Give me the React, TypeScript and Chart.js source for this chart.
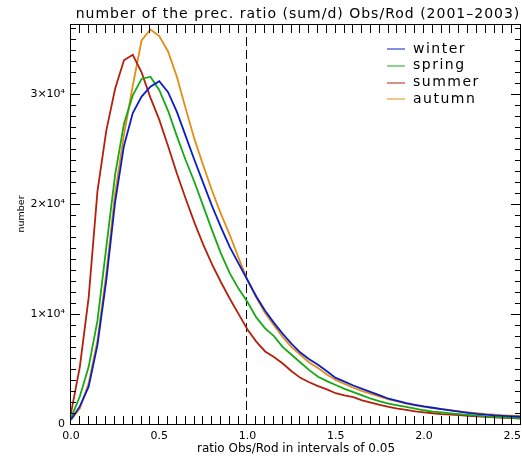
import React, { useEffect, useRef } from "react";
import { Chart, registerables } from "chart.js";

Chart.register(...registerables);

// ---- data ----
const ratioBins = [
  0.0, 0.05, 0.1, 0.15, 0.2, 0.25, 0.3, 0.35, 0.4, 0.45,
  0.5, 0.55, 0.6, 0.65, 0.7, 0.75, 0.8, 0.85, 0.9, 0.95,
  1.0, 1.05, 1.1, 1.15, 1.2, 1.25, 1.3, 1.35, 1.4, 1.45,
  1.5, 1.55, 1.6, 1.65, 1.7, 1.75, 1.8, 1.85, 1.9, 1.95,
  2.0, 2.05, 2.1, 2.15, 2.2, 2.25, 2.3, 2.35, 2.4, 2.45,
  2.5, 2.55,
];

const winterCounts = [
  400, 1600, 3400, 7200, 13100, 20200, 25300, 28300, 29800, 30700,
  31200, 30200, 28400, 26200, 24000, 21900, 19800, 17900, 16100, 14600,
  13100, 11600, 10300, 9200, 8200, 7300, 6500, 5900, 5400, 4800,
  4200, 3850, 3500, 3200, 2900, 2600, 2300, 2100, 1900, 1750,
  1600, 1480, 1350, 1230, 1120, 1020, 930, 860, 790, 740,
  700, 660,
];

const springCounts = [
  550, 2500, 5200, 9400, 16100, 22700, 27300, 29900, 31400, 31600,
  30400, 28500, 26200, 24000, 22000, 19800, 17600, 15500, 13700, 12300,
  11100, 9700, 8700, 8000, 7000, 6300, 5600, 4900, 4300, 3900,
  3550, 3200, 2900, 2600, 2300, 2050, 1850, 1700, 1550, 1400,
  1250, 1130, 1050, 970, 900, 830, 770, 700, 650, 600,
  560, 520,
];

const summerCounts = [
  1000, 5200, 11500, 21200, 26700, 30500, 33100, 33600, 32000, 29700,
  27700, 25300, 22800, 20500, 18300, 16300, 14500, 12900, 11400, 10000,
  8600, 7500, 6600, 6100, 5500, 4800, 4200, 3800, 3450, 3150,
  2800, 2600, 2450, 2150, 1950, 1750, 1550, 1400, 1280, 1150,
  1050, 980, 900, 860, 800, 750, 700, 650, 600, 560,
  530, 500,
];

const autumnCounts = [
  360, 1400, 3700, 7600, 13700, 21000, 26300, 30800, 34900, 35900,
  35300, 33900, 31600, 28700, 25900, 23500, 21200, 19100, 17200, 15100,
  13100, 11500, 10100, 9000, 7900, 7000, 6300, 5600, 5100, 4500,
  4000, 3650, 3300, 3000, 2750, 2500, 2250, 2050, 1850, 1700,
  1550, 1450, 1350, 1250, 1150, 1060, 980, 900, 840, 790,
  750, 720,
];

const seasonNames = ["winter", "spring", "summer", "autumn"];
const seasonColors = ["#0a1ec8", "#14aa14", "#b4200c", "#e68c14"];
const seasonSeries = [winterCounts, springCounts, summerCounts, autumnCounts];

const xTickValues = [0, 0.5, 1.0, 1.5, 2.0, 2.5];
const xTickLabels = ["0.0", "0.5", "1.0", "1.5", "2.0", "2.5"];
const yTickValues = [0, 10000, 20000, 30000];
const yTickLabels = ["0", "1×10⁴", "2×10⁴", "3×10⁴"];

const xMin = 0;
const xMax = 2.55;
const yMin = 0;
const yMax = 36400;
const xMinorStep = 0.05;
const yMinorStep = 1000;
const referenceRatio = 1.0;

const chartTitle = "number of the prec. ratio (sum/d) Obs/Rod (2001–2003)";
const xAxisTitle = "ratio Obs/Rod in intervals of 0.05";
const yAxisTitle = "number";

const FONT = "'DejaVu Sans', 'Liberation Sans', sans-serif";

const idlFramePlugin = {
  id: "idlFrame",
  beforeDatasetsDraw(chart: any) {
    const { ctx, chartArea, scales } = chart;
    const px = Math.round(scales.x.getPixelForValue(referenceRatio));
    ctx.save();
    ctx.fillStyle = "#000";
    // dashed reference line (9 on, 4 off)
    for (let y = chartArea.top; y < chartArea.bottom; y += 13) {
      const h = Math.min(9, chartArea.bottom - y);
      ctx.fillRect(px - 1, y, 1, h);
    }
    ctx.restore();
  },
  afterDraw(chart: any) {
    const { ctx, chartArea, scales } = chart;
    const { left, right, top, bottom } = chartArea;
    const xs = scales.x;
    const ys = scales.y;
    ctx.save();
    ctx.fillStyle = "#000";
    const L = Math.round(left) - 1;
    const R = Math.round(right) - 1;
    const T = Math.round(top);
    const B = Math.round(bottom);
    // frame
    ctx.fillRect(L, T, R - L + 1, 1);
    ctx.fillRect(L, B, R - L + 1, 1);
    ctx.fillRect(L, T, 1, B - T + 1);
    ctx.fillRect(R, T, 1, B - T + 1);
    // x ticks (inward, top and bottom)
    const nx = Math.round((xMax - xMin) / xMinorStep);
    for (let i = 0; i <= nx; i++) {
      const v = xMin + i * xMinorStep;
      if (v > xMax + 1e-9) break;
      const p = Math.round(xs.getPixelForValue(v)) - 1;
      ctx.fillRect(p, B - 8, 1, 8);
      ctx.fillRect(p, T + 1, 1, 8);
    }
    // y ticks (inward, left and right)
    const ny = Math.floor((yMax - yMin) / yMinorStep);
    for (let i = 0; i <= ny; i++) {
      const v = yMin + i * yMinorStep;
      const major = yTickValues.indexOf(v) >= 0;
      const len = major ? 9 : 5;
      const p = Math.round(ys.getPixelForValue(v));
      ctx.fillRect(L + 1, p, len, 1);
      ctx.fillRect(R - len, p, len, 1);
    }

    // title
    ctx.textAlign = "center";
    ctx.textBaseline = "middle";
    (ctx as any).letterSpacing = "1px";
    ctx.font = `14px ${FONT}`;
    ctx.fillText(chartTitle, 298, 14);

    // x axis title
    (ctx as any).letterSpacing = "0px";
    ctx.font = `12px ${FONT}`;
    ctx.fillText(xAxisTitle, (left + right) / 2, 449);

    // y axis title
    ctx.save();
    ctx.translate(21.5, 214);
    ctx.rotate(-Math.PI / 2);
    ctx.font = `9.5px ${FONT}`;
    ctx.fillText(yAxisTitle, 0, 0);
    ctx.restore();

    // legend
    const rows = [49, 65.8, 82.6, 99.4];
    ctx.font = `14px ${FONT}`;
    (ctx as any).letterSpacing = "1.5px";
    ctx.textAlign = "left";
    chart.data.datasets.forEach((ds: any, i: number) => {
      const y = rows[i];
      ctx.strokeStyle = ds.borderColor;
      ctx.lineWidth = 1;
      ctx.beginPath();
      ctx.moveTo(387, Math.round(y));
      ctx.lineTo(405, Math.round(y));
      ctx.stroke();
      ctx.fillStyle = "#000";
      ctx.fillText(ds.label, 413, y);
    });
    (ctx as any).letterSpacing = "0px";
    ctx.restore();
  },
};

export default function App() {
  const canvasRef = useRef<HTMLCanvasElement | null>(null);

  useEffect(() => {
    const canvas = canvasRef.current;
    if (!canvas) return;
    const chart = new Chart(canvas, {
      type: "line",
      data: {
        datasets: seasonNames.map((name, i) => ({
          label: name,
          data: ratioBins.map((x, j) => ({ x, y: seasonSeries[i][j] })),
          borderColor: seasonColors[i],
          backgroundColor: seasonColors[i],
          borderWidth: 1.8,
          pointRadius: 0,
          tension: 0,
          fill: false,
        })),
      },
      options: {
        animation: false,
        responsive: false,
        devicePixelRatio: 1,
        layout: { padding: { top: 24, right: 1, left: 0, bottom: 0 } },
        plugins: {
          legend: { display: false },
          title: { display: false },
          tooltip: { enabled: false },
        },
        events: [],
        scales: {
          x: {
            type: "linear",
            min: xMin,
            max: xMax,
            afterBuildTicks: (s: any) => {
              s.ticks = xTickValues.map((v) => ({ value: v }));
            },
            afterFit: (s: any) => {
              s.height = 32;
              s.paddingLeft = 0;
              s.paddingRight = 0;
            },
            ticks: {
              autoSkip: false,
              maxRotation: 0,
              minRotation: 0,
              padding: 6,
              color: "#000",
              font: { family: FONT, size: 11 },
              callback: (v: any) => xTickLabels[xTickValues.indexOf(Number(v))],
            },
            grid: { display: false, drawTicks: false },
            border: { display: false },
          },
          y: {
            type: "linear",
            min: yMin,
            max: yMax,
            afterBuildTicks: (s: any) => {
              s.ticks = yTickValues.map((v) => ({ value: v }));
            },
            afterFit: (s: any) => {
              s.width = 71;
              s.paddingTop = 0;
              s.paddingBottom = 0;
            },
            ticks: {
              autoSkip: false,
              padding: 6,
              color: "#000",
              font: { family: FONT, size: 11 },
              callback: (v: any) => yTickLabels[yTickValues.indexOf(Number(v))],
            },
            grid: { display: false, drawTicks: false },
            border: { display: false },
          },
        },
      },
      plugins: [idlFramePlugin],
    } as any);
    return () => chart.destroy();
  }, []);

  return (
    <div
      style={{
        position: "fixed",
        left: 0,
        top: 0,
        width: 522,
        height: 456,
        background: "#fff",
      }}
    >
      <canvas ref={canvasRef} width={522} height={456} style={{ display: "block" }} />
    </div>
  );
}
